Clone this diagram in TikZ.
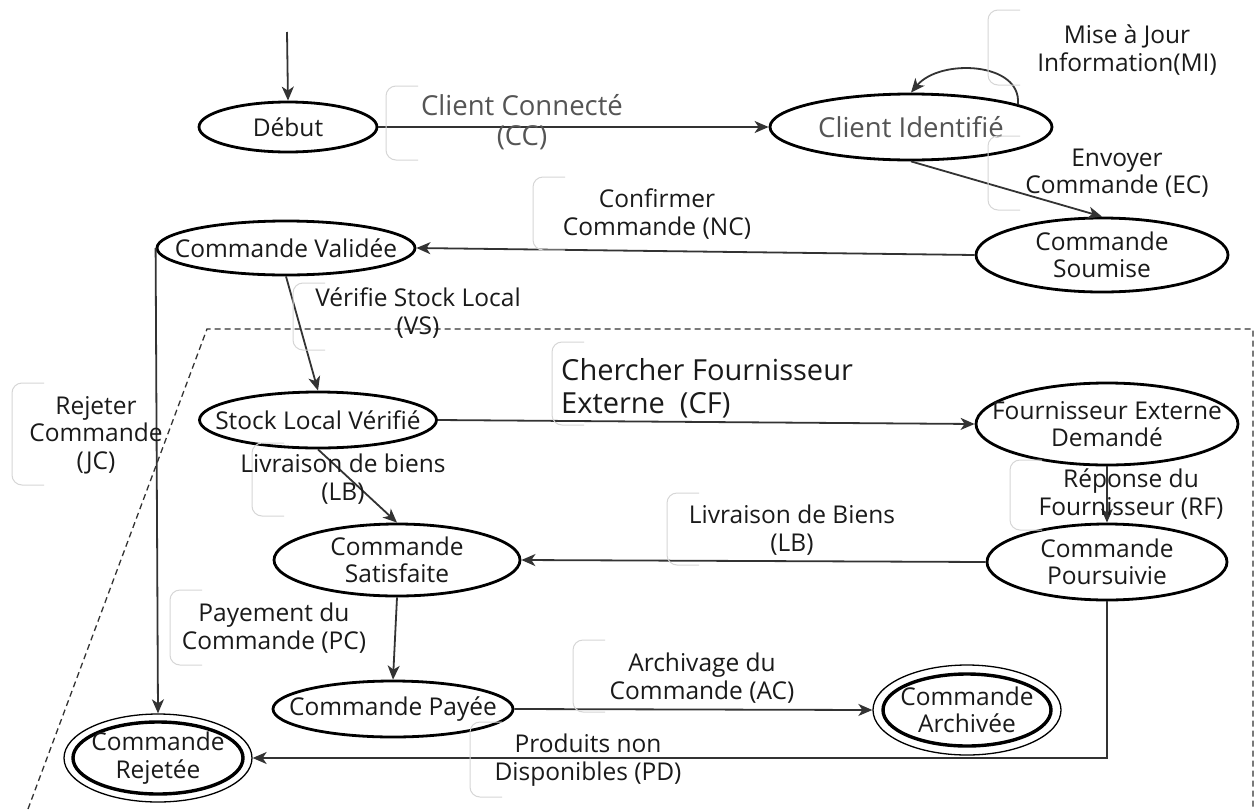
\documentclass[tikz,border=0pt]{standalone}
\usepackage{fontspec}
\setmainfont{Open Sans}
\usetikzlibrary{arrows.meta,shapes.geometric,calc}
\definecolor{ln}{HTML}{333333}
\definecolor{txt}{HTML}{1A1A1A}
\definecolor{gtxt}{HTML}{555555}
\definecolor{brk}{HTML}{D6D6D6}
\begin{document}
\begin{tikzpicture}[x=1pt,y=-1pt,
  st/.style={draw=black, line width=2.8pt, ellipse, inner sep=0pt},
  fin/.style={draw=black, line width=1.3pt, ellipse, inner sep=0pt},
  tx/.style={text=txt, align=center, font=\fontsize{24.5}{27.5}\selectfont, inner sep=0pt},
  lab/.style={text=txt, align=center, font=\fontsize{24.5}{27.5}\selectfont, inner sep=0pt},
  edge/.style={draw=ln, line width=1.8pt, -{Stealth[length=14pt,width=12pt,inset=4pt]}},
  brkt/.style={draw=brk, line width=1pt, rounded corners=10pt},
  bound/.style={draw=ln, line width=1.3pt, dash pattern=on 6pt off 4pt}]
\useasboundingbox (0,0) rectangle (1258,809);
\fill[white] (0,0) rectangle (1258,809);

% boundary
\coordinate (b1) at (28,809);
\coordinate (b2) at (207,329);
\coordinate (b3) at (1253,329);
\coordinate (b4) at (1253,809);
\draw[bound] (b1) -- (b2) -- (b3) -- (b4);

% states
\node[st, minimum width=178pt, minimum height=50pt] (deb) at (288,127) {};
\node[tx] at (deb) {Début};
\node[st, minimum width=282pt, minimum height=66pt] (ci) at (911,127) {};
\node[tx, text=gtxt, font=\fontsize{27.5}{30}\selectfont] at (ci) {Client Identifié};
\node[st, minimum width=252pt, minimum height=74pt] (cs) at (1102,255) {};
\node[tx] at (cs) {Commande\\Soumise};
\node[st, minimum width=258pt, minimum height=54pt] (cv) at (286,248) {};
\node[tx] at (cv) {Commande Validée};
\node[st, minimum width=237pt, minimum height=56pt] (slv) at (318,420) {};
\node[tx] at (slv) {Stock Local Vérifié};
\node[st, minimum width=262pt, minimum height=82pt] (fed) at (1107,424) {};
\node[tx] at (fed) {Fournisseur Externe\\Demandé};
\node[st, minimum width=240pt, minimum height=76pt] (pou) at (1107,562) {};
\node[tx] at (pou) {Commande\\Poursuivie};
\node[st, minimum width=246pt, minimum height=72pt] (sat) at (397,560) {};
\node[tx] at (sat) {Commande\\Satisfaite};
\node[st, minimum width=240pt, minimum height=56pt] (pay) at (393,709) {};
\node[tx] at (pay) {Commande Payée};
\node[fin, minimum width=188pt, minimum height=90pt] (arc) at (967,710) {};
\draw[line width=3.4pt] (arc.center) ellipse [x radius=84pt, y radius=36pt];
\node[tx] at (arc) {Commande\\Archivée};
\node[fin, minimum width=188pt, minimum height=88pt] (rej) at (158,758) {};
\draw[line width=3.4pt] (rej.center) ellipse [x radius=85pt, y radius=36pt];
\node[tx] at (rej) {Commande\\Rejetée};

% edges
\coordinate (s0) at (287,32);
\draw[edge] (s0) -- (deb.north);
\draw[edge] (deb.east) -- (ci.west);
\draw[edge] (ci.12) .. controls (1022,62) and (940,58) .. (ci.north);
\draw[edge] (ci.south) -- (cs.north);
\draw[edge] (cs.west) -- (cv.east);
\draw[edge] (cv.south) -- (slv.north);
\draw[edge] (cv.west) -- (rej.north);
\draw[edge] (slv.east) -- (fed.west);
\draw[edge] (slv.south) -- (sat.north);
\draw[edge] (fed.south) -- (pou.north);
\draw[edge] (pou.west) -- (sat.east);
\draw[edge] (sat.south) -- (pay.north);
\draw[edge] (pay.east) -- (arc.west);
\draw[edge] (pou.south) |- (rej.east);

% brackets
\draw[brkt] (418,86) -- (386,86) -- (386,160) -- (418,160);
\draw[brkt] (1020,10) -- (988,10) -- (988,85) -- (1020,85);
\draw[brkt] (1020,136) -- (988,136) -- (988,210) -- (1020,210);
\draw[brkt] (565,177) -- (533,177) -- (533,250) -- (565,250);
\draw[brkt] (325,283) -- (293,283) -- (293,350) -- (325,350);
\draw[brkt] (584,342) -- (552,342) -- (552,425) -- (584,425);
\draw[brkt] (44,383) -- (12,383) -- (12,485) -- (44,485);
\draw[brkt] (284,443) -- (252,443) -- (252,516) -- (284,516);
\draw[brkt] (1042,460) -- (1010,460) -- (1010,530) -- (1042,530);
\draw[brkt] (699,493) -- (667,493) -- (667,565) -- (699,565);
\draw[brkt] (202,590) -- (170,590) -- (170,665) -- (202,665);
\draw[brkt] (605,640) -- (573,640) -- (573,712) -- (605,712);
\draw[brkt] (502,722) -- (470,722) -- (470,797) -- (502,797);

% labels
\node[lab, text=gtxt, font=\fontsize{27.5}{29.5}\selectfont] (lcc) at (522,122) {Client Connecté\\(CC)};
\node[lab] (lmi) at (1127,50) {Mise à Jour\\Information(MI)};
\node[lab] (lec) at (1117,173) {Envoyer\\Commande (EC)};
\node[lab] (lnc) at (657,214) {Confirmer\\Commande (NC)};
\node[lab] (lvs) at (418,313) {Vérifie Stock Local\\(VS)};
\node[lab, align=left, font=\fontsize{29}{33}\selectfont, anchor=north west] (lcf) at (561,358) {Chercher Fournisseur\\Externe~ (CF)};
\node[lab] (ljc) at (96,435) {Rejeter\\Commande\\(JC)};
\node[lab] (llb1) at (343,479) {Livraison de biens\\(LB)};
\node[lab] (lrf) at (1131,494) {Réponse du\\Fournisseur (RF)};
\node[lab] (llb2) at (792,530) {Livraison de Biens\\(LB)};
\node[lab] (lpc) at (274,628) {Payement du\\Commande (PC)};
\node[lab] (lac) at (702,678) {Archivage du\\Commande (AC)};
\node[lab] (lpd) at (588,760) {Produits non\\Disponibles (PD)};
\end{tikzpicture}
\end{document}
